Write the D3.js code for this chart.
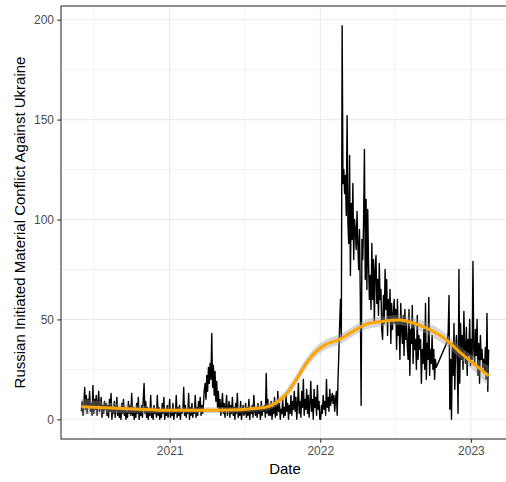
<!DOCTYPE html>
<html>
<head>
<meta charset="utf-8">
<script src="https://cdn.jsdelivr.net/npm/d3@7"></script>
<style>
  body { margin: 0; background: #fff; }
  svg { display: block; font-family: "Liberation Sans", Arial, sans-serif; }
</style>
</head>
<body>
<div id="chart"></div>
<script>
// daily counts, read every 2 days off the picture
var seriesStart = "2020-06-01";
var seriesStepDays = 2;
var valuesBeforeGap = [
    4,9,2,7,16,5,12,3,10,6,14,4,8,2,17,            // 2020 Jun
    3,10,5,12,2,8,14,4,6,11,1,7,3,9,5,8,           // Jul
    2,7,1,10,4,13,0,6,3,9,1,5,11,2,6,              // Aug
    1,5,0,8,3,10,2,6,0,4,1,9,3,7,2,                // Sep
    13,2,6,0,5,1,8,3,11,0,4,2,7,1,10,18,           // Oct
    3,9,1,6,0,5,2,12,1,4,0,7,3,5,1,                // Nov
    12,2,6,0,4,1,8,3,11,0,5,2,7,1,4,               // Dec
    10,1,5,2,8,0,4,3,12,1,6,2,7,0,5,3,             // 2021 Jan
    4,16,2,7,1,5,3,13,0,6,2,8,1,5,                 // Feb
    3,12,1,6,2,9,4,11,2,7,3,8,15,18,10,            // Mar
    22,14,26,18,28,20,43,16,27,12,24,9,19,6,14,    // Apr
    4,10,2,7,13,3,8,1,6,12,2,5,9,1,7,3,            // May
    11,2,6,0,8,3,13,1,5,2,9,0,4,7,2,               // Jun
    3,8,1,6,2,10,0,5,3,7,1,12,4,2,6,               // Jul
    1,8,3,5,0,9,2,6,4,7,1,23,3,10,2,6,             // Aug
    2,9,0,6,3,11,1,7,2,14,4,8,0,5,3,               // Sep
    10,1,6,2,13,4,8,0,7,3,12,2,9,5,14,             // Oct
    4,11,0,8,18,3,9,1,14,6,20,2,10,5,15,           // Nov
    3,12,1,8,19,4,10,0,15,6,11,2,17,5,9,0,         // Dec
    0,7,3,12,5,9,2,20,6,11,4,15,7,10,13,           // 2022 Jan
    8,12,4,10,14,2,20,33,48,60,40,197,118,125,     // Feb
    113,122,102,152,98,88,132,72,108,90,118,80,100,95,85,104, // Mar
    88,75,95,62,7,90,80,100,135,70,110,65,105,78,60,          // Apr
    72,55,88,60,80,48,75,82,58,70,52,78,60,65,45,  // May
    40,62,48,75,55,70,42,60,50,65,38,58,45,52,60,  // Jun
    48,55,35,60,42,50,30,58,45,38,52,32,55,40,48,36, // Jul
    30,55,22,45,38,57,28,48,35,40,25,52,30,42,35,  // Aug
    40,18,35,28,45,25,58,20,38,30,61,22,35,28,42,  // Sep
    25,35,20,30,26                                 // Oct
];
// no data for most of Oct 2022, the line just joins across
var afterGapStart = "2022-11-05";
var valuesAfterGap = [
    39,44,62,5,30,0,38,22,48,15,35,42,28,          // 2022 Nov
    3,75,18,48,30,42,25,54,35,28,46,22,40,32,50,27, // Dec
    40,30,79,35,28,45,32,50,22,38,18,42,30,35,26,  // 2023 Jan
    30,24,36,20,53,14,35                           // Feb
];

// loess smoother (orange) and its standard error band
var smoothDates = ["2020-06-01","2020-10-04","2021-01-01","2021-04-24","2021-08-15","2021-09-16",
    "2021-10-10","2021-11-04","2021-11-28","2021-12-22","2022-01-15","2022-02-17","2022-03-21",
    "2022-04-22","2022-06-01","2022-07-11","2022-08-12","2022-09-22","2022-11-01","2022-12-03",
    "2023-01-05","2023-02-13"];
var smoothValues = [6.3,5.2,4.5,4.5,5.8,8.3,12.5,20,28,34,37.5,40,44,47.5,49,49.7,48.3,45,40,34,28.3,21.7];
var smoothSe = [4,2,1.5,1.5,1.8,2,2.2,2.5,2.5,2.5,2.5,2.5,2.5,2.5,2.5,2.5,2.5,3,3,3,3.5,5];

var yTicks = [0, 50, 100, 150, 200];
var yMinorTicks = [25, 75, 125, 175];
var xTickDates = ["2021-01-01", "2022-01-01", "2023-01-01"];
var xMinorDates = ["2020-07-02", "2021-07-02", "2022-07-02"];

var yTitle = "Russian Initiated Material Conflict Against Ukraine";
var xTitle = "Date";


ConflictChart = function(_parentElement) {
    this.parentElement = _parentElement;
    this.initVis();
}

ConflictChart.prototype.initVis = function() {
    var vis = this;
    var parseDate = d3.timeParse("%Y-%m-%d");

    function series(start, values) {
        var t0 = parseDate(start);
        return values.map(function(v, i) {
            return { date: d3.timeDay.offset(t0, i * seriesStepDays), value: v };
        });
    }
    vis.data = series(seriesStart, valuesBeforeGap).concat(series(afterGapStart, valuesAfterGap));
    vis.smooth = smoothDates.map(function(d, i) {
        return { date: parseDate(d), value: smoothValues[i], se: smoothSe[i] };
    });

    // panel box (right edge runs past the picture like in the original)
    vis.margin = { top: 6, left: 61 };
    vis.width = 448;
    vis.height = 433;

    vis.svg = d3.select("#" + vis.parentElement).append("svg")
        .attr("width", 506)
        .attr("height", 482);
    vis.g = vis.svg.append("g")
        .attr("transform", "translate(" + vis.margin.left + "," + vis.margin.top + ")");

    // ggplot style 5% expansion
    var xExt = d3.extent(vis.data, function(d) { return d.date; });
    var xPad = (xExt[1] - xExt[0]) * 0.05;
    vis.x = d3.scaleTime()
        .domain([new Date(+xExt[0] - xPad), new Date(+xExt[1] + xPad)])
        .range([0, vis.width]);
    var yExt = d3.extent(vis.data, function(d) { return d.value; });
    var yPad = (yExt[1] - yExt[0]) * 0.05;
    vis.y = d3.scaleLinear()
        .domain([yExt[0] - yPad, yExt[1] + yPad])
        .range([vis.height, 0]);

    vis.updateVis();
}

ConflictChart.prototype.updateVis = function() {
    var vis = this;
    var parseDate = d3.timeParse("%Y-%m-%d");

    // grid
    var grid = vis.g.append("g").attr("class", "grid");
    grid.selectAll(".yminor").data(yMinorTicks).enter().append("line")
        .attr("x1", 0).attr("x2", vis.width)
        .attr("y1", function(d) { return vis.y(d); })
        .attr("y2", function(d) { return vis.y(d); })
        .attr("stroke", "#ebebeb").attr("stroke-width", 0.6);
    grid.selectAll(".xminor").data(xMinorDates).enter().append("line")
        .attr("y1", 0).attr("y2", vis.height)
        .attr("x1", function(d) { return vis.x(parseDate(d)); })
        .attr("x2", function(d) { return vis.x(parseDate(d)); })
        .attr("stroke", "#ebebeb").attr("stroke-width", 0.6);
    grid.selectAll(".ymajor").data(yTicks).enter().append("line")
        .attr("x1", 0).attr("x2", vis.width)
        .attr("y1", function(d) { return vis.y(d); })
        .attr("y2", function(d) { return vis.y(d); })
        .attr("stroke", "#ebebeb").attr("stroke-width", 1.1);
    grid.selectAll(".xmajor").data(xTickDates).enter().append("line")
        .attr("y1", 0).attr("y2", vis.height)
        .attr("x1", function(d) { return vis.x(parseDate(d)); })
        .attr("x2", function(d) { return vis.x(parseDate(d)); })
        .attr("stroke", "#ebebeb").attr("stroke-width", 1.1);

    // raw daily series
    var line = d3.line()
        .x(function(d) { return vis.x(d.date); })
        .y(function(d) { return vis.y(d.value); });
    vis.g.append("path")
        .datum(vis.data)
        .attr("fill", "none")
        .attr("stroke", "#000")
        .attr("stroke-width", 1.4)
        .attr("stroke-linejoin", "round")
        .attr("d", line);

    // smoother band + line
    var band = d3.area()
        .curve(d3.curveMonotoneX)
        .x(function(d) { return vis.x(d.date); })
        .y0(function(d) { return vis.y(d.value - d.se); })
        .y1(function(d) { return vis.y(d.value + d.se); });
    vis.g.append("path")
        .datum(vis.smooth)
        .attr("fill", "#999999")
        .attr("fill-opacity", 0.4)
        .attr("d", band);

    var smoothLine = d3.line()
        .curve(d3.curveMonotoneX)
        .x(function(d) { return vis.x(d.date); })
        .y(function(d) { return vis.y(d.value); });
    vis.g.append("path")
        .datum(vis.smooth)
        .attr("fill", "none")
        .attr("stroke", "orange")
        .attr("stroke-width", 3)
        .attr("d", smoothLine);

    // panel border
    vis.g.append("rect")
        .attr("width", vis.width)
        .attr("height", vis.height)
        .attr("fill", "none")
        .attr("stroke", "#333333")
        .attr("stroke-width", 1.1);

    // axes
    var yAxis = d3.axisLeft(vis.y)
        .tickValues(yTicks)
        .tickSize(3.7)
        .tickPadding(3.3);
    var xAxis = d3.axisBottom(vis.x)
        .tickValues(xTickDates.map(parseDate))
        .tickFormat(d3.timeFormat("%Y"))
        .tickSize(3.7)
        .tickPadding(3.3);

    var yg = vis.g.append("g").attr("class", "y-axis axis").call(yAxis);
    var xg = vis.g.append("g").attr("class", "x-axis axis")
        .attr("transform", "translate(0," + vis.height + ")")
        .call(xAxis);
    [xg, yg].forEach(function(a) {
        a.select(".domain").remove();
        a.selectAll(".tick line").attr("stroke", "#333333").attr("stroke-width", 1.1);
        a.selectAll(".tick text")
            .attr("fill", "#4d4d4d")
            .style("font-size", "12px")
            .style("font-family", "Liberation Sans, Arial, sans-serif");
    });

    // titles
    vis.svg.append("text")
        .attr("x", vis.margin.left + vis.width / 2)
        .attr("y", 474)
        .attr("text-anchor", "middle")
        .style("font-size", "15px")
        .attr("fill", "#000")
        .text(xTitle);
    vis.svg.append("text")
        .attr("transform", "translate(25," + (vis.margin.top + vis.height / 2) + ") rotate(-90)")
        .attr("text-anchor", "middle")
        .style("font-size", "15px")
        .attr("fill", "#000")
        .text(yTitle);
}

var chart = new ConflictChart("chart");
</script>
</body>
</html>
